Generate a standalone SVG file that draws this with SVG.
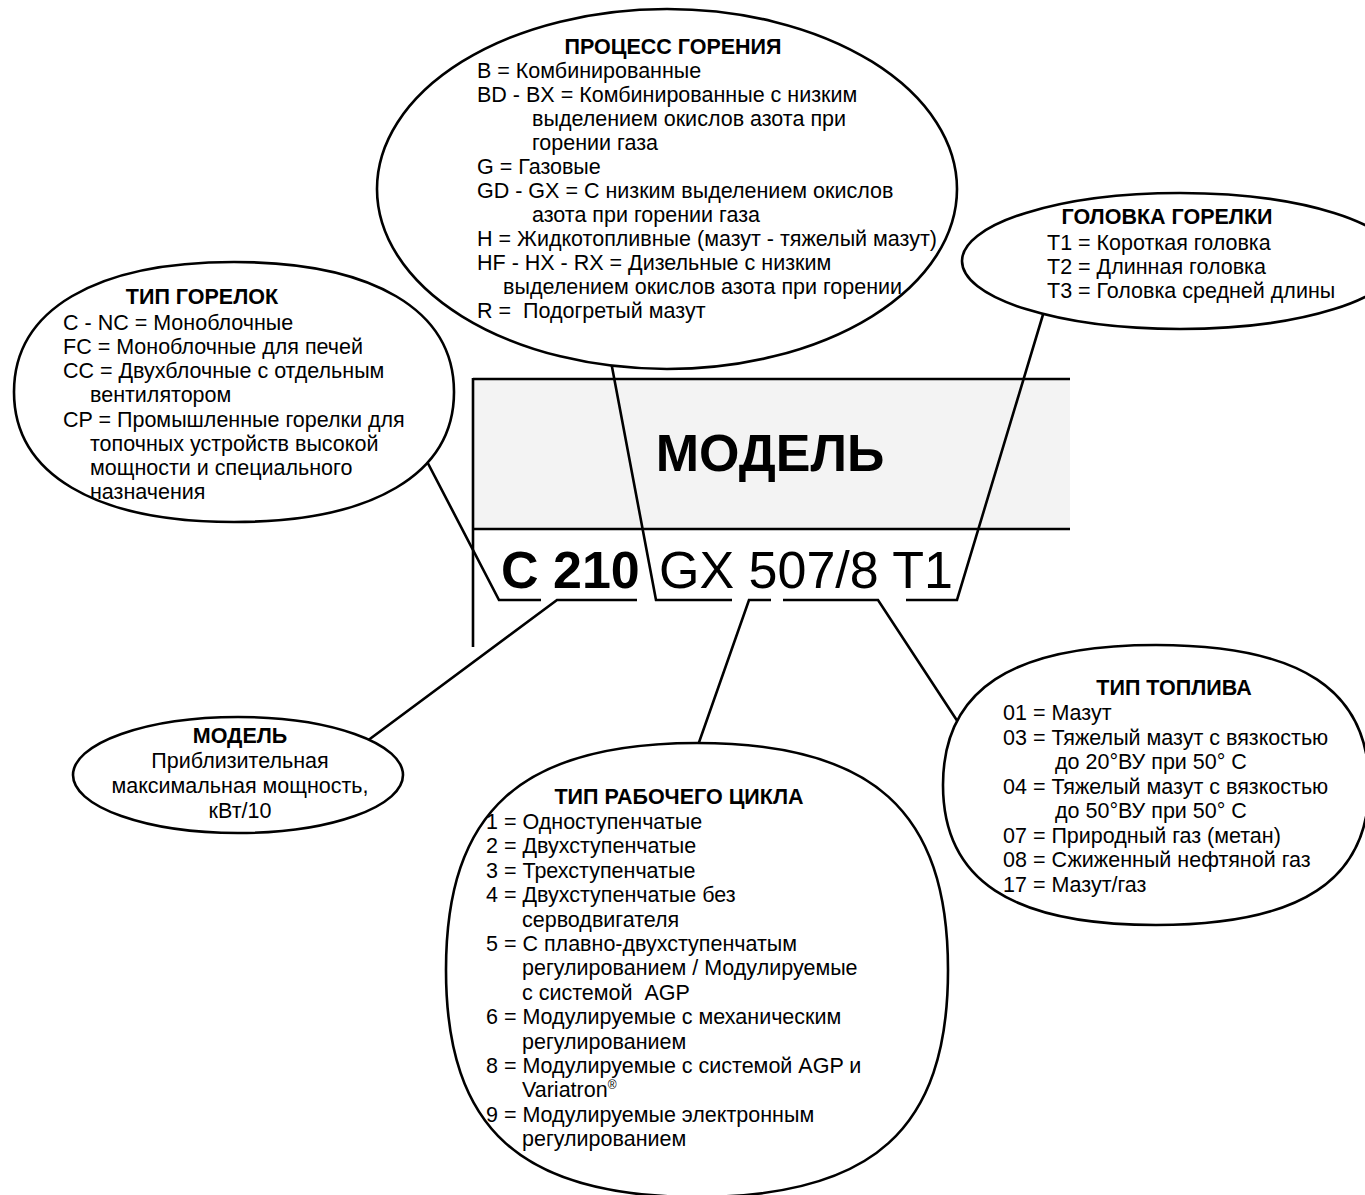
<svg xmlns="http://www.w3.org/2000/svg" width="1365" height="1195" viewBox="0 0 1365 1195">
<style>
text{font-family:"Liberation Sans",Arial,sans-serif;font-size:21.5px;fill:#000;white-space:pre}
.t{font-weight:bold;text-anchor:middle}
.c{text-anchor:middle}
.e{fill:#fff;stroke:#000;stroke-width:2.6}
.ln{fill:none;stroke:#000;stroke-width:2.6;stroke-linejoin:miter}
</style>
<rect width="1365" height="1195" fill="#fff"/>
<g id="model-box">
<rect x="473" y="379" width="597" height="150" fill="#f3f3f3"/>
<line class="ln" x1="473" y1="379" x2="1070" y2="379"/>
<line class="ln" x1="473" y1="529" x2="1070" y2="529"/>
<line class="ln" x1="473" y1="378" x2="473" y2="647"/>
<text x="770" y="471" class="t" style="font-size:52px">МОДЕЛЬ</text>
<text x="501" y="588" style="font-size:52px"><tspan font-weight="bold">C 210</tspan><tspan x="659">GX 507/8 T1</tspan></text>
</g>
<g id="connectors">
<polyline class="ln" points="420,448 499,600 541,600"/>
<polyline class="ln" points="355,750 557,600 637,600"/>
<polyline class="ln" points="606,335 656,600 732,600"/>
<polyline class="ln" points="690,768 749,600 771,600"/>
<polyline class="ln" points="783,600 878,600 975,748"/>
<polyline class="ln" points="906,600 957,600 1048,298"/>
</g>
<g id="process">
<ellipse class="e" cx="667" cy="189" rx="290" ry="180"/>
<text x="673" y="54" class="t">ПРОЦЕСС ГОРЕНИЯ</text>
<text x="477" y="78">B = Комбинированные</text>
<text x="477" y="102">BD - BX = Комбинированные с низким</text>
<text x="532" y="126">выделением окислов азота при</text>
<text x="532" y="150">горении газа</text>
<text x="477" y="174">G = Газовые</text>
<text x="477" y="198">GD - GX = С низким выделением окислов</text>
<text x="532" y="222">азота при горении газа</text>
<text x="477" y="246">H = Жидкотопливные (мазут - тяжелый мазут)</text>
<text x="477" y="270">HF - HX - RX = Дизельные с низким</text>
<text x="503" y="294">выделением окислов азота при горении</text>
<text x="477" y="318">R =  Подогретый мазут</text>
</g>
<g id="burner-type">
<path class="e" d="M14,392 C14,310 95,262 234,262 C373,262 454,310 454,392 C454,474 373,522 234,522 C95,522 14,474 14,392 Z"/>
<text x="202" y="304" class="t">ТИП ГОРЕЛОК</text>
<text x="63" y="330">C - NC = Моноблочные</text>
<text x="63" y="354">FC = Моноблочные для печей</text>
<text x="63" y="378">CC = Двухблочные с отдельным</text>
<text x="90" y="402">вентилятором</text>
<text x="63" y="427">CP = Промышленные горелки для</text>
<text x="90" y="451">топочных устройств высокой</text>
<text x="90" y="475">мощности и специального</text>
<text x="90" y="499">назначения</text>
</g>
<g id="head">
<ellipse class="e" cx="1180" cy="261" rx="218" ry="68"/>
<text x="1167" y="224" class="t">ГОЛОВКА ГОРЕЛКИ</text>
<text x="1047" y="250">T1 = Короткая головка</text>
<text x="1047" y="274">T2 = Длинная головка</text>
<text x="1047" y="298">T3 = Головка средней длины</text>
</g>
<g id="model">
<ellipse class="e" cx="238" cy="775" rx="165" ry="58"/>
<text x="240" y="743" class="t">МОДЕЛЬ</text>
<text x="240" y="768" class="c">Приблизительная</text>
<text x="240" y="793" class="c">максимальная мощность,</text>
<text x="240" y="818" class="c">кВт/10</text>
</g>
<g id="cycle">
<path class="e" d="M446,970 C446,811 521,743 697,743 C873,743 948,811 948,970 C948,1129 873,1197 697,1197 C521,1197 446,1129 446,970 Z"/>
<text x="679" y="804" class="t">ТИП РАБОЧЕГО ЦИКЛА</text>
<text x="486" y="829">1 = Одноступенчатые</text>
<text x="486" y="853">2 = Двухступенчатые</text>
<text x="486" y="878">3 = Трехступенчатые</text>
<text x="486" y="902">4 = Двухступенчатые без</text>
<text x="522" y="927">серводвигателя</text>
<text x="486" y="951">5 = С плавно-двухступенчатым</text>
<text x="522" y="975">регулированием / Модулируемые</text>
<text x="522" y="1000">с системой  AGP</text>
<text x="486" y="1024">6 = Модулируемые с механическим</text>
<text x="522" y="1049">регулированием</text>
<text x="486" y="1073">8 = Модулируемые с системой AGP и</text>
<text x="522" y="1097">Variatron<tspan style="font-size:12px" dy="-8">®</tspan></text>
<text x="486" y="1122">9 = Модулируемые электронным</text>
<text x="522" y="1146">регулированием</text>
</g>
<g id="fuel">
<path class="e" d="M943,785 C943,690 1011,645 1156,645 C1301,645 1369,690 1369,785 C1369,880 1301,925 1156,925 C1011,925 943,880 943,785 Z"/>
<text x="1174" y="695" class="t">ТИП ТОПЛИВА</text>
<text x="1003" y="720">01 = Мазут</text>
<text x="1003" y="745">03 = Тяжелый мазут с вязкостью</text>
<text x="1055" y="769">до 20°ВУ при 50° С</text>
<text x="1003" y="794">04 = Тяжелый мазут с вязкостью</text>
<text x="1055" y="818">до 50°ВУ при 50° С</text>
<text x="1003" y="843">07 = Природный газ (метан)</text>
<text x="1003" y="867">08 = Сжиженный нефтяной газ</text>
<text x="1003" y="892">17 = Мазут/газ</text>
</g>
</svg>
